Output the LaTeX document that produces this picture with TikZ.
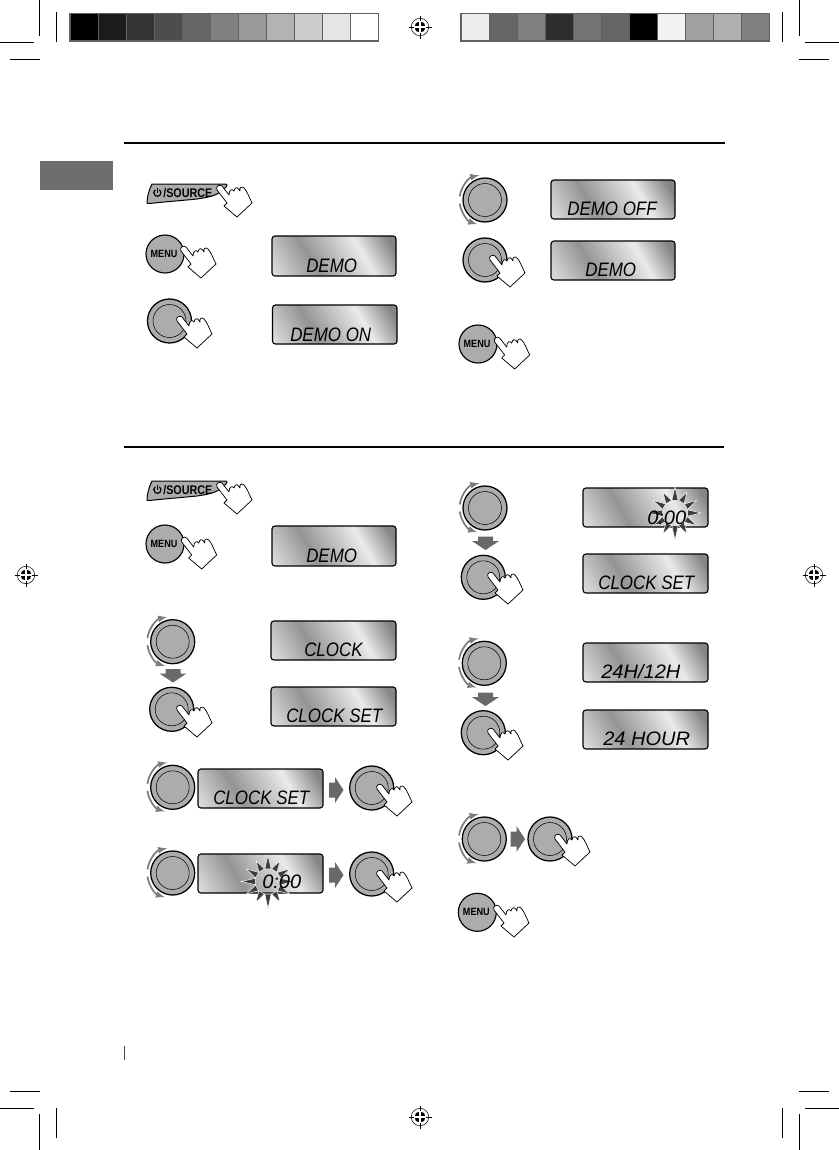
\documentclass[tikz,border=0pt]{standalone}
\usepackage{amsmath}
\usepackage{xcolor}
\usepackage{fontspec}
\newfontfamily\lcdfont[FakeStretch=0.87]{Liberation Sans}
\newfontfamily\lcdwidefont[FakeStretch=1.03]{Liberation Sans}
\newfontfamily\keyfont[FakeStretch=0.86]{Liberation Sans}
\pgfdeclareverticalshading{lcdglow}{100bp}{color(0bp)=(black!48);color(20bp)=(black!48);color(36bp)=(black!8);color(62bp)=(black!42);color(84bp)=(black!12);color(100bp)=(black!12)}
\tikzset{
every pic/.style={yscale=-1},
lcdbox/.style={draw=black,line width=0.85pt,rounded corners=2.2pt,shading=lcdglow,shading angle=120},
lcdtext/.style={anchor=base west,inner sep=0pt,font=\lcdfont\itshape\fontsize{14.6}{16}\selectfont},
lcdwide/.style={anchor=base west,inner sep=0pt,font=\lcdwidefont\itshape\fontsize{14.6}{16}\selectfont},
keytext/.style={inner sep=0pt,font=\keyfont\bfseries\fontsize{9.4}{10}\selectfont},
menutext/.style={inner sep=0pt,font=\keyfont\bfseries\fontsize{7.9}{9}\selectfont},
knob/.pic={
\draw [fill={rgb, 255:red, 172; green, 172; blue, 172 },line width=0.95pt] (0,0) circle (22);
\draw [line width=0.4pt] (0,0) circle (16.5);
},
menukey/.pic={
\draw [fill={rgb, 255:red, 172; green, 172; blue, 172 },line width=0.85pt] (0,0) circle (19);
\node (label) [menutext] at (-1,0) {MENU};
},
sourcekey/.pic={
\draw [fill={rgb, 255:red, 172; green, 172; blue, 172 },line width=0.75pt] (0,19) .. controls (0,13) and (2,6) .. (5,0) -- (77,0) .. controls (80,0) and (81,1) .. (79,3) .. controls (72,11) and (64,13) .. (50,15) .. controls (30,17) and (15,18) .. (3,19.5) .. controls (1,19.5) and (0,19.5) .. (0,19) -- cycle;
\draw [line width=0.9pt] (12.4,5.8) arc [start angle=-55,end angle=235,radius=3.6];
\draw [line width=0.9pt] (10.3,4.3) -- (10.3,9);
\node (label) [keytext,anchor=base west] at (16,13.3) {/SOURCE};
},
hand/.pic={
\draw [fill=white,line width=0.55pt,line join=round] (0,2) -- (10,15) -- (7,18) -- (20,29) -- (35,15) .. controls (32,9) and (30,3) .. (27,0) .. controls (25,-2) and (22,-1) .. (23,3) .. controls (21,-1) and (18,-2) .. (17,3) .. controls (15,0) and (12,2) .. (12,7) -- (5,-2) .. controls (3,-4) and (-2,-2) .. (0,2) -- cycle;
},
turn/.pic={
\draw [-latex,line width=1.3pt,color={rgb, 255:red, 125; green, 125; blue, 125 }] (188:25.5) arc [start angle=188,end angle=257,radius=25.5];
\draw [-latex,line width=1.3pt,color={rgb, 255:red, 125; green, 125; blue, 125 }] (172:25.5) arc [start angle=172,end angle=108,radius=25.5];
},
blockdown/.pic={
\fill [color={rgb, 255:red, 105; green, 105; blue, 105 }] (-7.5,-6.5) -- (7.5,-6.5) -- (7.5,-2) -- (13.5,-2) -- (0,7) -- (-13.5,-2) -- (-7.5,-2) -- cycle;
},
blockright/.pic={
\fill [color={rgb, 255:red, 105; green, 105; blue, 105 }] (-7,-7.5) -- (-1,-7.5) -- (-1,-13) -- (7.5,0) -- (-1,13) -- (-1,7.5) -- (-7,7.5) -- cycle;
},
blink/.pic={
\foreach \a/\r in {0/26,30/25,60/24,90/27,120/24,150/25,180/27,210/25,240/24,270/26,300/24,330/25}
\draw [fill={rgb, 255:red, 60; green, 60; blue, 60 },draw=white,line width=0.35pt] (\a-14:13) -- (\a:\r) -- (\a+14:13) -- cycle;
},
regmark/.pic={
\draw [line width=0.4pt] (0,0) circle (8.7);
\fill (0,0) circle (5.6);
\draw [white,line width=0.8pt] (-5.6,0) -- (5.6,0) (0,-5.6) -- (0,5.6);
\draw [line width=0.6pt] (-11.5,0) -- (-5.6,0) (5.6,0) -- (11.5,0) (0,-11.5) -- (0,-5.6) (0,5.6) -- (0,11.5);
}
}

\begin{document}
\begin{tikzpicture}[x=0.75pt,y=0.75pt,yscale=-1,xscale=1]

\useasboundingbox (0,0) rectangle (839,1150);

\draw [line width=0.75pt] (39.5,0) -- (39.5,36) (56.5,12) -- (56.5,42) (0,42.5) -- (34,42.5) (10,59) -- (40,59) ;
\draw [line width=0.75pt] (799,0) -- (799,36) (782,12) -- (782,42) (805,42.5) -- (839,42.5) (799,59) -- (829,59) ;
\draw [line width=0.75pt] (39.5,1114) -- (39.5,1150) (56.5,1108) -- (56.5,1138) (0,1108) -- (34,1108) (10,1091) -- (40,1091) ;
\draw [line width=0.75pt] (799,1114) -- (799,1150) (782,1108) -- (782,1138) (805,1108) -- (839,1108) (799,1091) -- (829,1091) ;
\draw [line width=0.6pt,color={rgb, 255:red, 70; green, 70; blue, 70 }] (124.5,1046) -- (124.5,1060) ;

\pic at (420,27) {regmark};
\pic at (420,1117) {regmark};
\pic at (26,575) {regmark};
\pic at (814,575) {regmark};

\fill [color={rgb, 255:red, 96; green, 96; blue, 96 }] (69,12.5) rectangle (379,41.5) ;
\foreach \i/\g in {0/0,1/28,2/51,3/77,4/102,5/128,6/153,7/179,8/204,9/230,10/255}
\fill [color={rgb, 255:red, \g; green, \g; blue, \g }] (71+\i*28,14) rectangle (97.5+\i*28,40) ;

\fill [color={rgb, 255:red, 96; green, 96; blue, 96 }] (460,12.5) rectangle (770,41.5) ;
\foreach \i/\g in {0/238,1/102,2/128,3/46,4/115,5/102,6/0,7/242,8/160,9/176,10/128}
\fill [color={rgb, 255:red, \g; green, \g; blue, \g }] (462+\i*28,14) rectangle (488.5+\i*28,40) ;

\draw [line width=1.5pt] (124,143) -- (725,143) ;
\draw [line width=1.5pt] (124,447) -- (724,447) ;
\fill [color={rgb, 255:red, 110; green, 110; blue, 110 }] (40,161) rectangle (113,190) ;

\pic at (147,184) {sourcekey};
\pic at (217,188) {hand};

\pic at (165,254) {menukey};
\pic at (181,249) {hand};
\draw [lcdbox] (272,236) rectangle (396,276) ;
\draw (306,272.2) node (demoa) [lcdtext] {DEMO};

\pic at (169.5,321) {knob};
\pic at (177,319) {hand};
\draw [lcdbox] (272.5,305) rectangle (397,344) ;
\draw (290,341.2) node (demoon) [lcdtext] {DEMO ON};

\pic at (485,200) {knob};
\pic at (485,200) {turn};
\draw [lcdbox] (551,180) rectangle (675,219) ;
\draw (567,215.5) node (demooff) [lcdtext] {DEMO OFF};

\pic at (485,260) {knob};
\pic at (490,258) {hand};
\draw [lcdbox] (551,241) rectangle (675,280) ;
\draw (585,276.5) node (demob) [lcdtext] {DEMO};

\pic at (478,344) {menukey};
\pic at (494.7,340) {hand};

\pic at (147,481) {sourcekey};
\pic at (217,485) {hand};

\pic at (165,544) {menukey};
\pic at (181.7,540) {hand};
\draw [lcdbox] (272,526) rectangle (396,566) ;
\draw (306,562.5) node (democ) [lcdtext] {DEMO};

\pic at (172.7,641.7) {knob};
\pic at (172.7,641.7) {turn};
\draw [lcdbox] (271,621) rectangle (396,660) ;
\draw (304,656.5) node (clock) [lcdtext] {CLOCK};
\pic at (173,675.5) {blockdown};

\pic at (171.7,709.3) {knob};
\pic at (177,708) {hand};
\draw [lcdbox] (271,687) rectangle (396,726) ;
\draw (286,722.5) node (clockseta) [lcdtext] {CLOCK SET};

\pic at (172.7,787.3) {knob};
\pic at (172.7,787.3) {turn};
\draw [lcdbox] (198,769) rectangle (323,808) ;
\draw (213,804.5) node (clocksetb) [lcdtext] {CLOCK SET};
\pic at (336,790) {blockright};
\pic at (371.7,788) {knob};
\pic at (377,787) {hand};

\pic at (172.7,873) {knob};
\pic at (172.7,873) {turn};
\draw [lcdbox] (198,854) rectangle (323,893) ;
\pic at (268,881.5) {blink};
\draw (262,888) node (timea) [lcdwide] {0:00};
\pic at (336,875) {blockright};
\pic at (371.7,874) {knob};
\pic at (377,873) {hand};

\pic at (485,508) {knob};
\pic at (485,508) {turn};
\draw [lcdbox] (583,488) rectangle (708,527) ;
\pic at (675,513) {blink};
\draw (647,524.5) node (timeb) [lcdwide] {0:00};
\pic at (485.5,543) {blockdown};

\pic at (483.3,577.3) {knob};
\pic at (488,575) {hand};
\draw [lcdbox] (583,554) rectangle (708,593) ;
\draw (598,589.5) node (clocksetc) [lcdtext] {CLOCK SET};

\pic at (484.3,663.3) {knob};
\pic at (484.3,663.3) {turn};
\draw [lcdbox] (583,643) rectangle (708,682) ;
\draw (601,678) node (hourfmt) [lcdwide] {24H/12H};
\pic at (485.5,699) {blockdown};

\pic at (483.3,732.7) {knob};
\pic at (488,731) {hand};
\draw [lcdbox] (583,710) rectangle (708,749) ;
\draw (603,745.2) node (hourset) [lcdwide] {24 HOUR};

\pic at (484.3,839) {knob};
\pic at (484.3,839) {turn};
\pic at (517.5,839) {blockright};
\pic at (550,839) {knob};
\pic at (555,837) {hand};

\pic at (477.3,912.3) {menukey};
\pic at (494,908) {hand};

\end{tikzpicture}
\end{document}
